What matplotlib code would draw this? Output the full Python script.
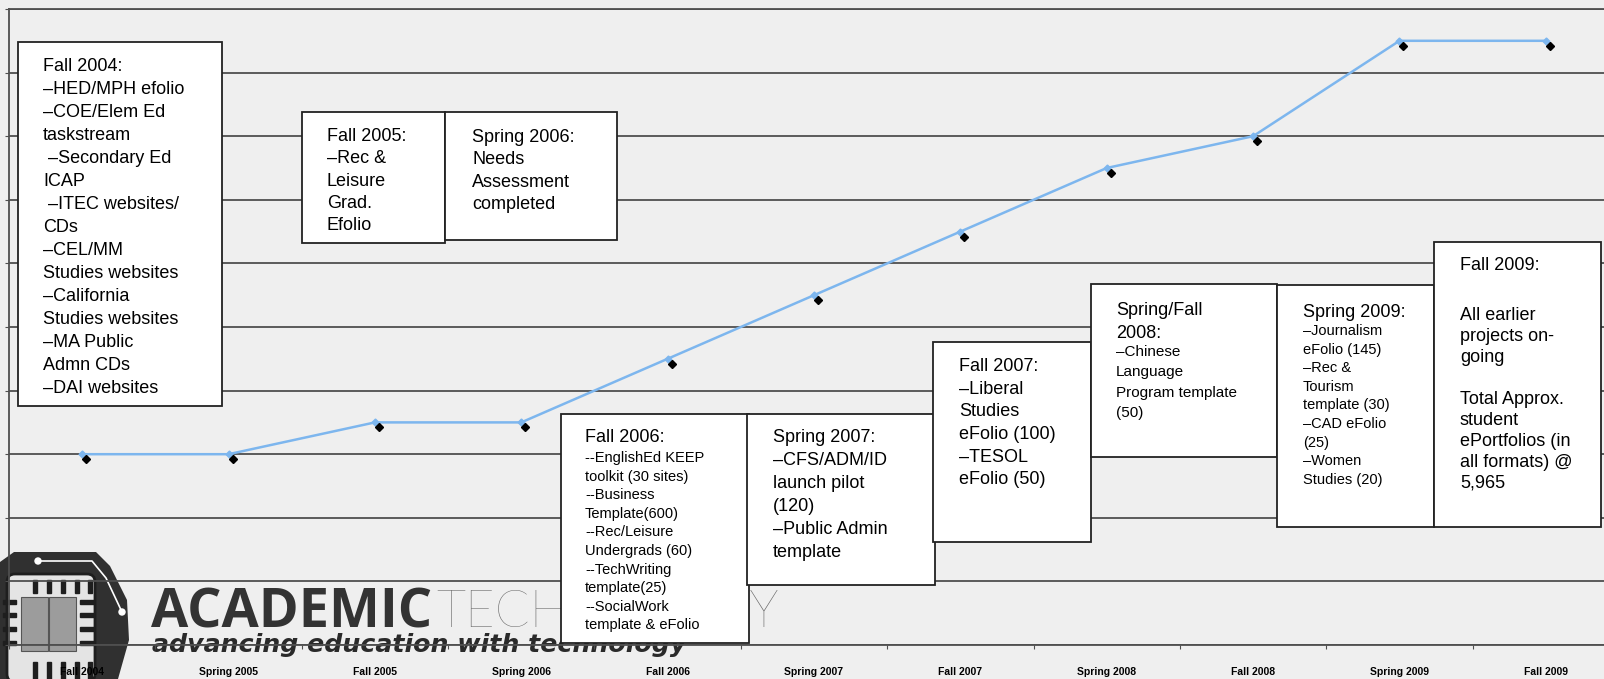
import matplotlib
matplotlib.use('Agg')
import matplotlib.pyplot as plt
from matplotlib import font_manager
from matplotlib.patches import Rectangle, Polygon, FancyBboxPatch, Circle
from matplotlib.transforms import ScaledTranslation
import numpy as np

# semesters on the x axis and the ePortfolio growth (in gridline units)
terms = ['Fall 2004', 'Spring 2005', 'Fall 2005', 'Spring 2006', 'Fall 2006',
         'Spring 2007', 'Fall 2007', 'Spring 2008', 'Fall 2008', 'Spring 2009',
         'Fall 2009']
growth = [3.0, 3.0, 3.5, 3.5, 4.5, 5.5, 6.5, 7.5, 8.0, 9.5, 9.5]

# milestone notes shown in the call-out boxes
note_fall04 = ['Fall 2004:', '–HED/MPH efolio', '–COE/Elem Ed', 'taskstream',
               ' –Secondary Ed', 'ICAP', ' –ITEC websites/', 'CDs', '–CEL/MM',
               'Studies websites', '–California', 'Studies websites',
               '–MA Public', 'Admn CDs', '–DAI websites']
note_fall05 = ['Fall 2005:', '–Rec &', 'Leisure', 'Grad.', 'Efolio']
note_spr06 = ['Spring 2006:', 'Needs', 'Assessment', 'completed']
note_fall06 = ['Fall 2006:', '--EnglishEd KEEP', 'toolkit (30 sites)', '--Business',
               'Template(600)', '--Rec/Leisure', 'Undergrads (60)', '--TechWriting',
               'template(25)', '--SocialWork', 'template & eFolio']
note_spr07 = ['Spring 2007:', '–CFS/ADM/ID', 'launch pilot', '(120)',
              '–Public Admin', 'template']
note_fall07 = ['Fall 2007:', '–Liberal', 'Studies', 'eFolio (100)', '–TESOL',
               'eFolio (50)']
note_08 = ['Spring/Fall', '2008:', '–Chinese', 'Language', 'Program template', '(50)']
note_spr09 = ['Spring 2009:', '–Journalism', 'eFolio (145)', '–Rec &', 'Tourism',
              'template (30)', '–CAD eFolio', '(25)', '–Women', 'Studies (20)']
note_fall09 = ['Fall 2009:', 'All earlier', 'projects on-', 'going', '',
               'Total Approx.', 'student', 'ePortfolios (in', 'all formats) @',
               '5,965']

W, H = 1604, 679
names = {f.name for f in font_manager.fontManager.ttflist}
has_narrow = 'Liberation Sans Narrow' in names

REG = dict(family=['Liberation Sans', 'DejaVu Sans'], size=13)
SMALL = dict(family=['Liberation Sans', 'DejaVu Sans'], size=11)
if has_narrow:
    NAR = dict(family=['Liberation Sans Narrow', 'DejaVu Sans'], size=12.5)
    TICK = dict(family=['Liberation Sans Narrow', 'DejaVu Sans'], size=9, weight='bold')
else:
    NAR = dict(family=['Liberation Sans', 'DejaVu Sans'], size=10.5)
    TICK = dict(family=['Liberation Sans', 'DejaVu Sans'], size=7.5, weight='bold')

BG = '#efefef'
GRID = '#4f4f4f'

fig = plt.figure(figsize=(W / 100, H / 100), dpi=100, facecolor=BG)

# ---- logo layer (under the chart lines) ----
lg = fig.add_axes([0, 0, 1, 1], zorder=0)
lg.set_xlim(0, W)
lg.set_ylim(H, 0)
lg.axis('off')
lg.add_patch(Polygon([(0, 562), (14, 552), (96, 552), (110, 566), (127, 600),
                      (129, 640), (118, 679), (0, 679)], closed=True,
                     facecolor='#303030', edgecolor='none'))
lg.plot([38, 92, 106, 122], [561, 561, 578, 612], color='white', lw=1.2)
lg.add_patch(Circle((38, 561), 3, color='white'))
lg.add_patch(Circle((122, 612), 3, color='white'))
lg.add_patch(FancyBboxPatch((7, 574), 88, 108, boxstyle='round,pad=0,rounding_size=8',
                            facecolor='#e4e4e4', edgecolor='#1e1e1e', lw=2))
for px in [35, 49, 63, 77, 90]:
    lg.add_patch(Rectangle((px - 2, 580), 4, 13, color='#1e1e1e'))
    lg.add_patch(Rectangle((px - 2, 662), 4, 17, color='#1e1e1e'))
for py in [602, 615, 629, 643]:
    lg.add_patch(Rectangle((3, py - 2), 13, 4, color='#1e1e1e'))
    lg.add_patch(Rectangle((80, py - 2), 14, 4, color='#1e1e1e'))
lg.add_patch(Rectangle((21, 597), 27, 54, facecolor='#9c9c9c', edgecolor='#555', lw=0.8))
lg.add_patch(Rectangle((49, 597), 27, 54, facecolor='#9c9c9c', edgecolor='#555', lw=0.8))


def fit_text(ax, s, x0, x1, base, **kw):
    t = ax.text(x0, base, s, ha='left', va='baseline', fontsize=40, **kw)
    r = fig.canvas.get_renderer()
    w = t.get_window_extent(r).width
    t.set_fontsize(40 * (x1 - x0) / w)
    return t


fit_text(lg, 'ACADEMIC', 151, 432, 627, family=['Open Sans', 'DejaVu Sans'],
         weight='bold', color='#333333')
fit_text(lg, 'TECHNOLOGY', 436, 778, 627, family=['Lato', 'DejaVu Sans'],
         weight='light', color='#666666')
fit_text(lg, 'advancing education with technology', 152, 686, 652,
         family=['DejaVu Sans'], weight='bold', style='italic', color='#2a2a2a')

# ---- chart ----
ax = fig.add_axes([9 / W, (H - 645) / H, 1610 / W, 636 / H], zorder=1)
ax.set_facecolor('none')
x = np.arange(len(terms))
ax.plot(x, growth, color='#7db6ee', lw=1.8, marker='D', ms=3.5, zorder=3)
shift = ScaledTranslation(4 / 100, -5 / 100, fig.dpi_scale_trans)
ax.plot(x, growth, ls='none', marker='D', ms=4, color='black',
        transform=ax.transData + shift, zorder=4)

ax.set_xlim(-0.5, len(terms) - 0.5)
ax.set_ylim(0, 10)
ax.set_yticks(np.arange(0, 11))
ax.set_yticklabels([])
ax.yaxis.grid(True, color=GRID, lw=1.3)
ax.set_axisbelow(True)
ax.set_xticks(np.arange(-0.5, len(terms), 1))
ax.set_xticklabels([])
ax.set_xticks(x, minor=True)
ax.set_xticklabels(terms, minor=True, **TICK)
ax.tick_params(axis='x', which='major', length=3, direction='out', color=GRID)
ax.tick_params(axis='x', which='minor', length=0, pad=16)
ax.tick_params(axis='y', length=3, direction='out', color=GRID)
for side in ax.spines:
    ax.spines[side].set_color(GRID)
    ax.spines[side].set_linewidth(1.3)

# ---- call-out boxes ----
bx = fig.add_axes([0, 0, 1, 1], zorder=2)
bx.set_xlim(0, W)
bx.set_ylim(H, 0)
bx.axis('off')
bx.patch.set_alpha(0)

# (lines, rect x0, y0, x1, y1, text x, blocks of (first baseline, step, font, count))
boxes = [
    (note_fall04, 18, 42, 222, 406, 43, [(71, 23, REG, 15)]),
    (note_fall05, 302, 112, 445, 243, 327, [(141, 22.3, REG, 5)]),
    (note_spr06, 445, 112, 617, 240, 472, [(142, 22.3, REG, 4)]),
    (note_fall06, 561, 414, 749, 643, 585, [(442, 0, REG, 1), (462, 18.6, NAR, 10)]),
    (note_spr07, 747, 414, 935, 585, 773, [(442, 23, REG, 6)]),
    (note_fall07, 933, 342, 1091, 542, 959, [(371, 22.7, REG, 6)]),
    (note_08, 1091, 284, 1277, 457, 1116, [(315, 23.5, REG, 2), (356, 20.3, SMALL, 4)]),
    (note_spr09, 1277, 285, 1434, 527, 1303, [(317, 0, REG, 1), (335, 18.6, NAR, 9)]),
    (note_fall09, 1434, 242, 1601, 527, 1460, [(270, 0, REG, 1), (320, 21, REG, 9)]),
]
for lines, x0, y0, x1, y1, tx, blocks in boxes:
    bx.add_patch(Rectangle((x0, y0), x1 - x0, y1 - y0, facecolor='white',
                           edgecolor='#222222', lw=1.3))
    i = 0
    for base, step, font, n in blocks:
        for k in range(n):
            bx.text(tx, base + k * step, lines[i], ha='left', va='baseline',
                    color='black', **font)
            i += 1

fig.savefig('out.png', dpi=100, facecolor=BG)
